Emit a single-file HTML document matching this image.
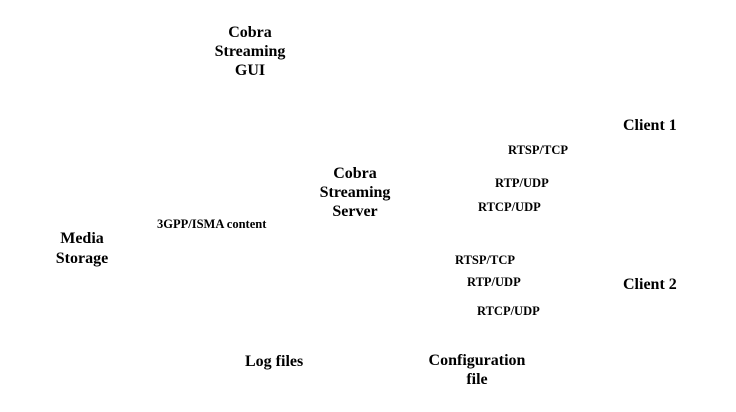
<!DOCTYPE html>
<html><head><style>
body{margin:0;width:736px;height:412px;background:#fff;position:relative;overflow:hidden;font-family:"Liberation Serif",serif;font-weight:bold;color:#000}
.t{position:absolute;white-space:nowrap;line-height:19px;font-size:16px;text-align:center}
.s{position:absolute;white-space:nowrap;font-size:12.5px;line-height:14px}
</style></head><body>
<div class="t" style="left:190px;width:120px;top:23px">Cobra<br>Streaming<br>GUI</div>
<div class="t" style="left:295px;width:120px;top:164px">Cobra<br>Streaming<br>Server</div>
<div class="t" style="left:22px;width:120px;top:229px;line-height:20px">Media<br>Storage</div>
<div class="t" style="left:623px;top:116px">Client 1</div>
<div class="t" style="left:623px;top:275px">Client 2</div>
<div class="s" style="left:157px;top:217px">3GPP/ISMA content</div>
<div class="s" style="left:508px;top:143px">RTSP/TCP</div>
<div class="s" style="left:495px;top:176px">RTP/UDP</div>
<div class="s" style="left:478px;top:200px">RTCP/UDP</div>
<div class="s" style="left:455px;top:253px">RTSP/TCP</div>
<div class="s" style="left:467px;top:275px">RTP/UDP</div>
<div class="s" style="left:477px;top:304px">RTCP/UDP</div>
<div class="t" style="left:245px;top:352px">Log files</div>
<div class="t" style="left:407px;width:140px;top:351px">Configuration<br>file</div>
</body></html>
